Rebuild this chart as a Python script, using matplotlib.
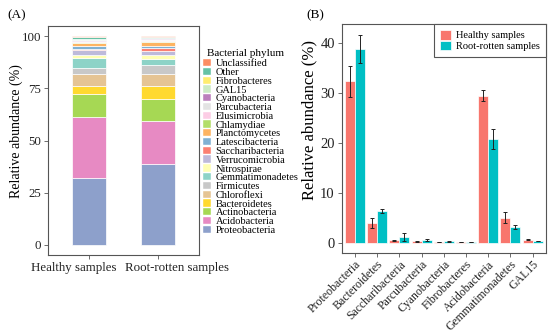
import matplotlib
matplotlib.use("Agg")
import matplotlib.pyplot as plt
from matplotlib.patches import Patch
from matplotlib.transforms import ScaledTranslation
import numpy as np

plt.rcParams['font.family'] = ['Liberation Serif', 'DejaVu Serif']

# ---- panel A: stacked composition (bottom -> top)
phyla = ['Proteobacteria', 'Acidobacteria', 'Actinobacteria', 'Bacteroidetes',
         'Chloroflexi', 'Firmicutes', 'Gemmatimonadetes', 'Nitrospirae',
         'Verrucomicrobia', 'Saccharibacteria', 'Latescibacteria', 'Planctomycetes',
         'Chlamydiae', 'Elusimicrobia', 'Parcubacteria', 'Cyanobacteria',
         'GAL15', 'Fibrobacteres', 'Other', 'Unclassified']
phylum_colors = ['#8DA0CB', '#E78AC3', '#A6D854', '#FFD92F',
                 '#E5C494', '#C8C8C8', '#8DD3C7', '#FFFFB3',
                 '#BEBADA', '#FB8072', '#80B1D3', '#FDB462',
                 '#B3DE69', '#FCCDE5', '#E3E3E3', '#BC80BD',
                 '#CCEBC5', '#FFED6F', '#66C2A5', '#FC8D62']
samples = ['Healthy samples', 'Root-rotten samples']
healthy_comp = [32.1, 29.4, 10.6, 4.0, 5.9, 2.6, 5.0, 1.5, 2.3, 0.6,
                1.2, 1.6, 0.5, 0.3, 0.3, 0.2, 0.6, 0.1, 1.0, 0.2]
rotten_comp = [38.7, 20.7, 10.7, 6.3, 5.6, 4.2, 2.9, 1.9, 1.9, 1.3,
               1.0, 1.9, 0.6, 0.5, 0.5, 0.3, 0.3, 0.1, 0.5, 0.1]

# ---- panel B: mean abundance with error bars
b_phyla = ['Proteobacteria', 'Bacteroidetes', 'Saccharibacteria', 'Parcubacteria',
           'Cyanobacteria', 'Fibrobacteres', 'Acidobacteria', 'Gemmatimonadetes', 'GAL15']
healthy_mean = [32.3, 4.0, 0.5, 0.25, 0.15, 0.05, 29.4, 4.95, 0.55]
healthy_err = [3.1, 1.0, 0.1, 0.05, 0.05, 0.03, 1.1, 1.1, 0.1]
rotten_mean = [38.7, 6.3, 1.2, 0.5, 0.3, 0.1, 20.7, 3.2, 0.3]
rotten_err = [2.8, 0.4, 0.8, 0.2, 0.1, 0.05, 2.0, 0.4, 0.05]

W, H = 554, 332
fig = plt.figure(figsize=(W / 100, H / 100), dpi=100)
edge = '#555555'


def style_axes(ax, fs):
    for s in ax.spines.values():
        s.set_color(edge)
        s.set_linewidth(0.8)
    ax.tick_params(direction='out', length=3, width=0.6, color=edge,
                   labelsize=fs, labelcolor='#222222', pad=2)


# panel A
axA = fig.add_axes([48 / W, 1 - 255 / H, 151 / W, 229 / H])
xa = np.arange(len(samples))
bottom = np.zeros(len(samples))
for i, name in enumerate(phyla):
    vals = np.array([healthy_comp[i], rotten_comp[i]])
    axA.bar(xa, vals, 0.5, bottom=bottom, color=phylum_colors[i],
            edgecolor='white', linewidth=0.5)
    bottom += vals
axA.set_xlim(-0.6, 1.6)
axA.set_ylim(-5, 105)
axA.set_yticks([0, 25, 50, 75, 100])
axA.set_xticks(xa)
axA.set_xticklabels(samples)
axA.set_ylabel('Relative abundance (%)', fontsize=10)
axA.yaxis.set_label_coords(-0.166, 0.54)
style_axes(axA, 9.3)
# the two sample labels sit pushed apart in the original
lab_h, lab_r = axA.get_xticklabels()
lab_h.set_ha('right')
lab_h.set_transform(lab_h.get_transform() + ScaledTranslation(27 / 100, 0, fig.dpi_scale_trans))
lab_r.set_ha('left')
lab_r.set_transform(lab_r.get_transform() + ScaledTranslation(-33 / 100, 0, fig.dpi_scale_trans))

handles = [Patch(facecolor=c, edgecolor='white', linewidth=0.3)
           for c in phylum_colors[::-1]]
fig.text(207 / W, 1 - 53 / H, 'Bacterial phylum', fontsize=8, va='center')
leg = axA.legend(handles, phyla[::-1], loc='upper left',
                 bbox_to_anchor=(203 / W, 1 - 59 / H), bbox_transform=fig.transFigure,
                 frameon=False, fontsize=7.5,
                 labelspacing=-0.05, handlelength=0.8, handleheight=0.7,
                 handletextpad=0.4, borderpad=0, borderaxespad=0)

# panel B
axB = fig.add_axes([341.7 / W, 1 - 253 / H, 204.3 / W, 229 / H])
xb = np.arange(len(b_phyla))
bw = 0.45
axB.bar(xb - bw / 2, healthy_mean, bw, color='#F8766D', edgecolor='white',
        linewidth=0.5, label='Healthy samples')
axB.bar(xb + bw / 2, rotten_mean, bw, color='#00BFC4', edgecolor='white',
        linewidth=0.5, label='Root-rotten samples')
axB.errorbar(xb - bw / 2, healthy_mean, yerr=healthy_err, fmt='none',
             ecolor='#222222', elinewidth=0.7, capsize=1.5, capthick=0.7)
axB.errorbar(xb + bw / 2, rotten_mean, yerr=rotten_err, fmt='none',
             ecolor='#222222', elinewidth=0.7, capsize=1.5, capthick=0.7)
axB.set_xlim(-0.6, len(b_phyla) - 0.4)
axB.set_ylim(-2.1, 43.7)
axB.set_yticks([0, 10, 20, 30, 40])
axB.set_xticks(xb)
axB.set_xticklabels(b_phyla, rotation=45, ha='right', rotation_mode='anchor')
axB.set_ylabel('Relative abundance (%)', fontsize=12)
axB.yaxis.set_label_coords(-0.118, 0.58)
style_axes(axB, 10.5)
axB.tick_params(axis='x', labelsize=8.5, pad=1)
legB = axB.legend(loc='upper right', fontsize=7.5, fancybox=False, framealpha=1,
                  edgecolor=edge, borderaxespad=0, handlelength=1.0, handleheight=1.0,
                  handletextpad=0.5, labelspacing=0.05, borderpad=0.6)
legB.get_frame().set_linewidth(0.8)

fig.text(7 / W, 1 - 15 / H, '(A)', fontsize=9.5, va='center')
fig.text(306 / W, 1 - 15 / H, '(B)', fontsize=9.5, va='center')

fig.savefig('out.png', dpi=100)
